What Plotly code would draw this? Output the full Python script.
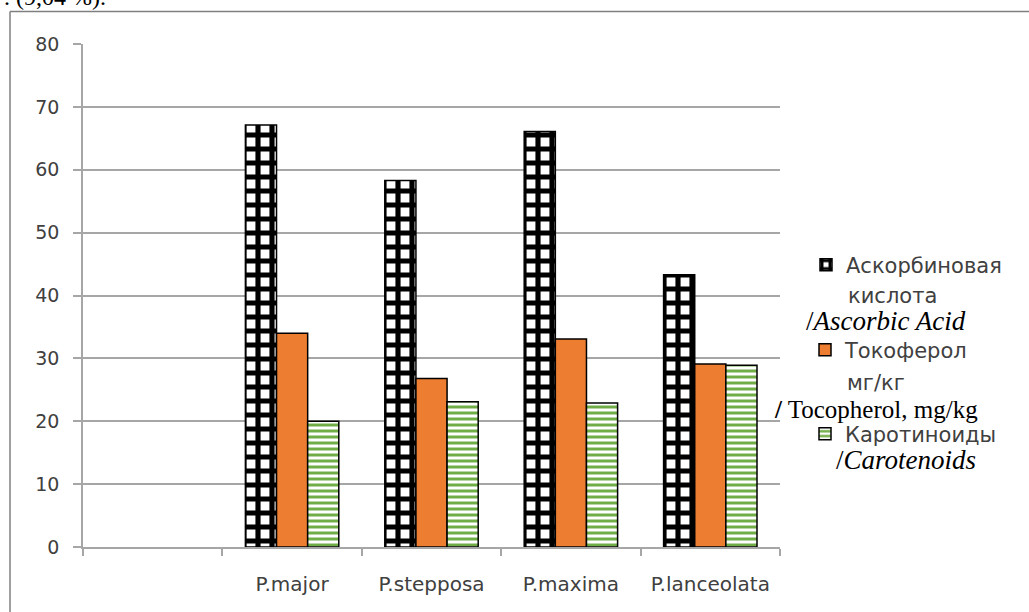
import plotly.graph_objects as go

# ---- data ----
categories = [" ", "P.major", "P.stepposa", "P.maxima", "P.lanceolata"]
ascorbic = [None, 67.1, 58.3, 66.1, 43.3]
tocopherol = [None, 34.0, 26.8, 33.1, 29.1]
carotenoids = [None, 20.0, 23.1, 22.9, 28.9]
y_ticks = [0, 10, 20, 30, 40, 50, 60, 70, 80]

W, H = 1029, 612
L, R, T, B = 83, 780, 44, 547  # plot area in pixels


def px(x):
    return (x - L) / (R - L)


def py(y):
    return (B - y) / (B - T)


SANS = "DejaVu Sans"
SERIF = "Liberation Serif"
TXT = "#404040"
GRID = "#a6a6a6"

fig = go.Figure()
fig.add_trace(go.Bar(
    x=categories, y=ascorbic, name="Аскорбиновая", legend="legend",
    marker=dict(color="white", line=dict(color="black", width=1.5),
                pattern=dict(shape="+", fgcolor="black", bgcolor="white",
                             size=14, solidity=0.6, fillmode="replace")),
))
fig.add_trace(go.Bar(
    x=categories, y=tocopherol, name="Токоферол", legend="legend2",
    marker=dict(color="#ed7d31", line=dict(color="black", width=1.5)),
))
fig.add_trace(go.Bar(
    x=categories, y=carotenoids, name="Каротиноиды", legend="legend3",
    marker=dict(color="white", line=dict(color="black", width=1.5),
                pattern=dict(shape="-", fgcolor="#70ad47", bgcolor="white",
                             size=6, solidity=0.5, fillmode="replace")),
))

leg_common = dict(font=dict(family=SANS, size=21, color=TXT),
                  bgcolor="rgba(0,0,0,0)", xanchor="left", yanchor="middle",
                  itemwidth=30, tracegroupgap=0)

annotations = [
    dict(text=". (9,04 %).", x=px(2), y=py(-3), xanchor="left", yanchor="middle",
         font=dict(family=SERIF, size=24, color="black")),
    dict(text="кислота", x=px(846), y=py(296), xanchor="left", yanchor="middle",
         font=dict(family=SANS, size=21, color=TXT)),
    dict(text="/<i>Ascorbic Acid</i>", x=px(804), y=py(321), xanchor="left", yanchor="middle",
         font=dict(family=SERIF, size=27, color="black")),
    dict(text="мг/кг", x=px(845), y=py(383), xanchor="left", yanchor="middle",
         font=dict(family=SANS, size=21, color=TXT)),
    dict(text="<b>/</b> Tocopherol, mg/kg", x=px(772), y=py(409), xanchor="left", yanchor="middle",
         font=dict(family=SERIF, size=25, color="black")),
    dict(text="/<i>Carotenoids</i>", x=px(834), y=py(460), xanchor="left", yanchor="middle",
         font=dict(family=SERIF, size=27, color="black")),
]
for a in annotations:
    a.update(xref="paper", yref="paper", showarrow=False)

fig.update_layout(
    width=W, height=H,
    margin=dict(l=L, r=W - R, t=T, b=H - B, pad=0),
    paper_bgcolor="white", plot_bgcolor="white",
    barmode="group", bargap=0.33, bargroupgap=0,
    font=dict(family=SANS, size=19, color=TXT),
    showlegend=True,
    legend=dict(x=px(806), y=py(265), **leg_common),
    legend2=dict(x=px(805), y=py(350), **leg_common),
    legend3=dict(x=px(805), y=py(434), **leg_common),
    annotations=annotations,
    shapes=[
        dict(type="line", xref="paper", yref="paper", x0=px(10), x1=px(1035),
             y0=py(11.5), y1=py(11.5), line=dict(color="#7f7f7f", width=1.5)),
        dict(type="line", xref="paper", yref="paper", x0=px(10), x1=px(10),
             y0=py(11.5), y1=py(620), line=dict(color="#7f7f7f", width=1.5)),
    ],
)
fig.update_xaxes(
    type="category", categoryorder="array", categoryarray=categories,
    range=[-0.5, len(categories) - 0.5],
    showline=True, linecolor=GRID, linewidth=1.5,
    ticks="outside", tickson="boundaries", ticklen=7, tickcolor=GRID, tickwidth=1.5,
    showgrid=False, ticklabelstandoff=18,
    tickfont=dict(family=SANS, size=20, color=TXT),
)
fig.update_yaxes(
    range=[0, 80], tickvals=y_ticks, ticktext=[str(v) for v in y_ticks],
    showline=True, linecolor=GRID, linewidth=1.5,
    showgrid=True, gridcolor=GRID, gridwidth=1.5, zeroline=False,
    ticks="outside", ticklen=8, tickcolor=GRID, tickwidth=1.5,
    ticklabelstandoff=10,
    tickfont=dict(family=SANS, size=19, color=TXT),
)

fig.write_html("out.html", config={"displayModeBar": False},
               post_script="document.body.style.margin='0';document.body.style.padding='0';")
